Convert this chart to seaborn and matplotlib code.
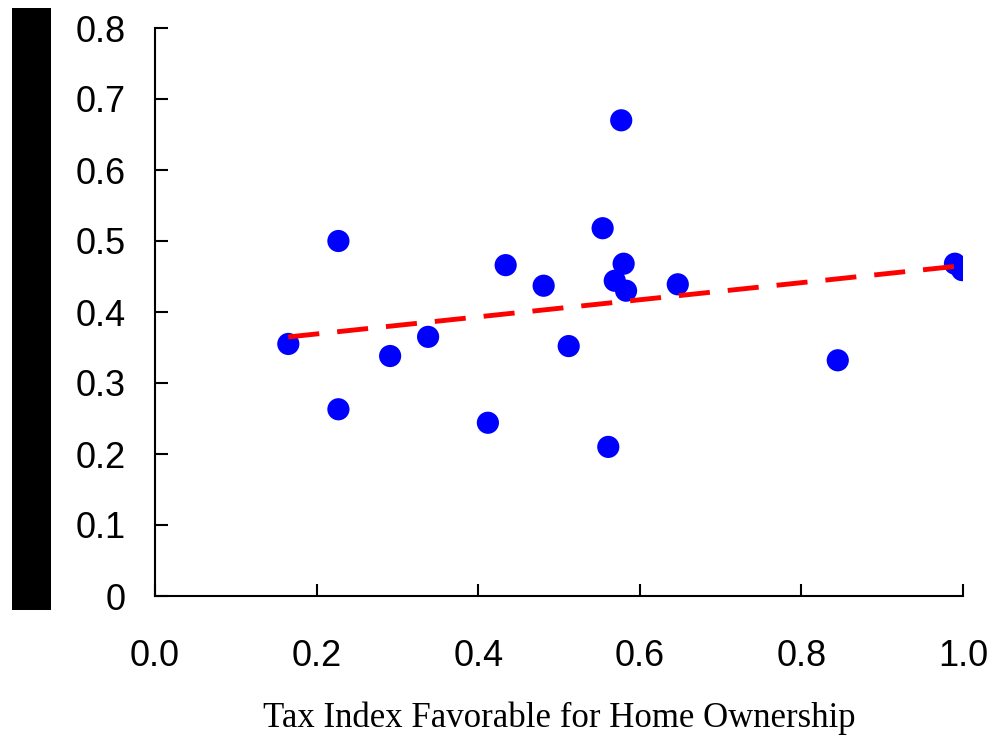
import matplotlib
matplotlib.use("Agg")
import matplotlib.pyplot as plt
from matplotlib.patches import Rectangle
import seaborn as sns
import pandas as pd

# Tax index (x) versus ownership measure (y) for each observation
tax_index = [0.165, 0.227, 0.227, 0.291, 0.338, 0.412, 0.434, 0.481, 0.512,
             0.554, 0.561, 0.577, 0.569, 0.580, 0.583, 0.647, 0.845, 0.990, 0.999]
ownership = [0.355, 0.500, 0.263, 0.338, 0.365, 0.244, 0.466, 0.437, 0.352,
             0.518, 0.210, 0.670, 0.444, 0.468, 0.430, 0.439, 0.332, 0.468, 0.459]

x_ticks = [0.0, 0.2, 0.4, 0.6, 0.8, 1.0]
x_tick_labels = ["0.0", "0.2", "0.4", "0.6", "0.8", "1.0"]
y_ticks = [0, 0.1, 0.2, 0.3, 0.4, 0.5, 0.6, 0.7, 0.8]
y_tick_labels = ["0", "0.1", "0.2", "0.3", "0.4", "0.5", "0.6", "0.7", "0.8"]

df = pd.DataFrame({"tax": tax_index, "own": ownership})

sns.set_style("white")
plt.rcParams["font.family"] = ["Liberation Sans", "DejaVu Sans"]

fig = plt.figure(figsize=(9.91, 7.37), dpi=100)
ax = fig.add_axes([155 / 991, 1 - 596 / 737, (963 - 155) / 991, (596 - 28) / 737])

sns.regplot(data=df, x="tax", y="own", ax=ax, ci=None, truncate=True,
            scatter_kws=dict(s=255, color="#0000ff", edgecolor="none", alpha=1, zorder=3),
            line_kws=dict(color="#ff0000", lw=3.5, dashes=(6.4, 3.7), zorder=4))

ax.set_xlim(0, 1.0)
ax.set_ylim(0, 0.8)
ax.set_xticks(x_ticks)
ax.set_xticklabels(x_tick_labels)
ax.set_yticks(y_ticks)
ax.set_yticklabels(y_tick_labels)
ax.tick_params(axis="both", direction="in", length=9, width=1.5, color="black",
               labelsize=26, labelcolor="black", bottom=True, left=True)
ax.tick_params(axis="y", pad=21)
ax.tick_params(axis="x", pad=31)

for side in ("top", "right"):
    ax.spines[side].set_visible(False)
for side in ("left", "bottom"):
    ax.spines[side].set_color("black")
    ax.spines[side].set_linewidth(1.5)

ax.set_ylabel("")
ax.set_xlabel("Tax Index Favorable for Home Ownership", family=["Liberation Serif"],
              fontsize=25, color="black", labelpad=20)

# Solid black band along the left edge
fig.patches.append(Rectangle((12 / 991, 1 - 610 / 737), 39 / 991, 602 / 737,
                             transform=fig.transFigure, facecolor="black",
                             edgecolor="none"))

fig.savefig("out.png", dpi=100)
